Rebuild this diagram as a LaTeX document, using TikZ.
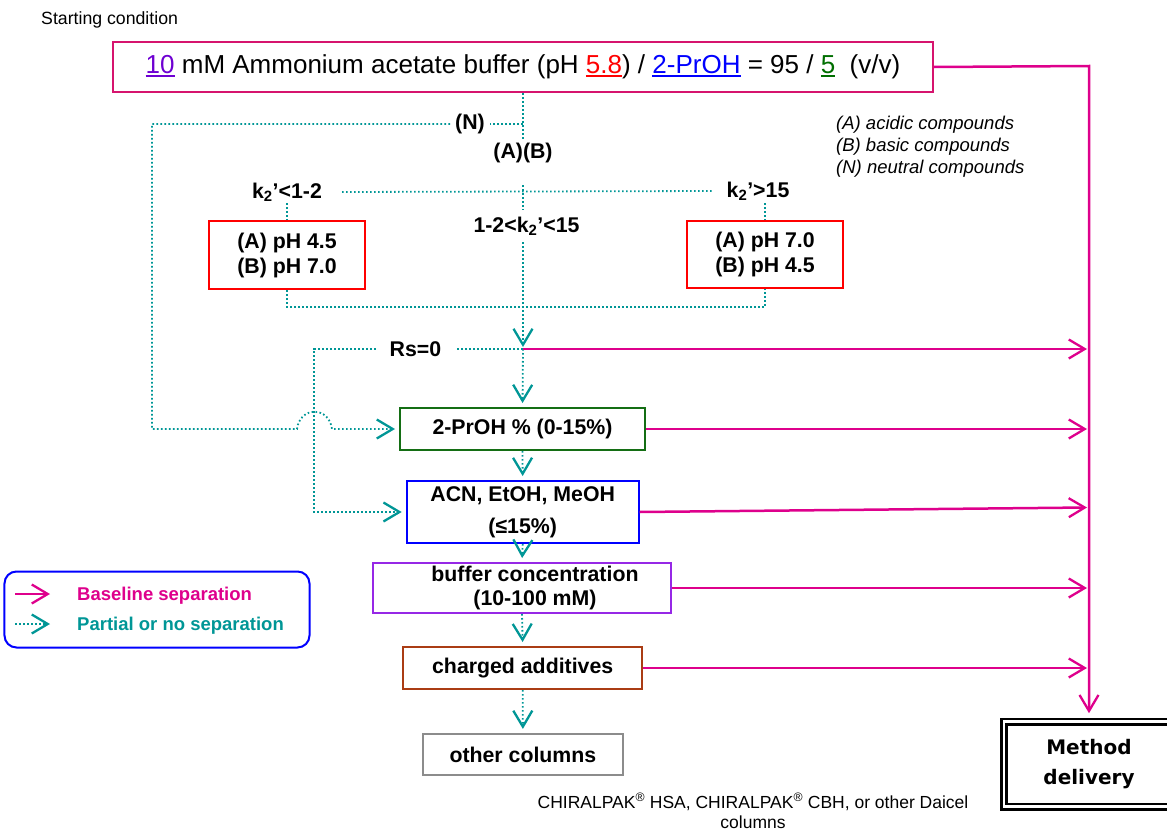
\documentclass[tikz,border=0pt]{standalone}
\usepackage{fontspec}
\setmainfont{Liberation Sans}
\newfontfamily\dejavu{DejaVu Sans}
\usetikzlibrary{arrows.meta}
\definecolor{pinkc}{RGB}{222,0,140}
\definecolor{tealc}{RGB}{0,150,150}
\definecolor{mainb}{RGB}{214,20,110}
\definecolor{redb}{RGB}{255,0,0}
\definecolor{greenb}{RGB}{20,110,20}
\definecolor{blueb}{RGB}{0,0,255}
\definecolor{purpb}{RGB}{150,40,230}
\definecolor{brownb}{RGB}{170,60,20}
\definecolor{grayb}{RGB}{140,140,140}
\definecolor{cten}{RGB}{110,0,210}
\definecolor{cfive}{RGB}{0,110,0}
\newcommand\fsz[2]{\fontsize{#1bp}{#2bp}\selectfont}
\newcommand\myul[2]{\textcolor{#1}{\setbox0\hbox{#2}\rlap{\rule[-3.5bp]{\wd0}{2bp}}\box0}}
\begin{document}
\begin{tikzpicture}[x=1bp,y=-1bp,
  tl/.style={draw=tealc, line width=1.8bp, dash pattern=on 1.6bp off 2.4bp},
  tla/.style={tl, -{Straight Barb[length=16bp,width=19bp,line width=2.3bp]}, shorten >=4bp},
  pl/.style={draw=pinkc, line width=2.5bp},
  pla/.style={pl, -{Straight Barb[length=16bp,width=19bp,line width=2.3bp]}},
  bx/.style={draw, line width=2bp, inner sep=0, align=center, font=\bfseries\fsz{21.3}{25}},
  lbl/.style={font=\bfseries\fsz{21.3}{25}, inner sep=0},
]
\useasboundingbox (0,0) rectangle (1167,833);
\clip (0,0) rectangle (1167,833);

% nodes
\node[anchor=west, font=\fsz{17.7}{21}, inner sep=0] (start) at (41,20) {Starting condition};
\node[draw=mainb, line width=2bp, minimum width=820bp, minimum height=50bp, inner sep=0, font=\fsz{26}{30}] (main) at (523,67)
  {\myul{cten}{10} mM Ammonium acetate buffer (pH \myul{redb}{5.8}) / \myul{blueb}{2-PrOH} = 95 / \myul{cfive}{5}\ \ (v/v)};
\node[anchor=west, align=left, font=\itshape\fsz{18.5}{22}, inner sep=0] (abn) at (836,146.5)
  {(A) acidic compounds\\(B) basic compounds\\(N) neutral compounds};

\node[lbl, inner xsep=5bp] (nn) at (470,124) {(N)};
\node[lbl] (ab) at (523,153) {(A)(B)};
\node[lbl, inner xsep=20bp] (kl) at (287,192) {k\textsubscript{2}’<1-2};
\node[lbl, inner xsep=13bp] (kr) at (758,191) {k\textsubscript{2}’>15};
\node[lbl] (km) at (526.5,226) {1-2<k\textsubscript{2}’<15};

\node[bx, draw=redb, minimum width=156bp, minimum height=68bp] (phl) at (287,255) {(A) pH 4.5\\(B) pH 7.0};
\node[bx, draw=redb, minimum width=156bp, minimum height=67bp] (phr) at (765,254.5) {(A) pH 7.0\\(B) pH 4.5};

\node[lbl, inner xsep=14bp] (rs) at (415.5,349) {Rs=0};

\node[bx, draw=greenb, minimum width=245bp, minimum height=42bp] (prop) at (522.5,429) {2-PrOH \% (0-15\%)};
\node[bx, draw=blueb, minimum width=232bp, minimum height=62bp, font=\bfseries\fsz{21.3}{32}] (acn) at (522.7,512) {ACN, EtOH, MeOH\\(≤15\%)};
\node[bx, draw=purpb, minimum width=298bp, minimum height=50bp] (buf) at (522,588) {};
\node[lbl, align=center, font=\bfseries\fsz{21.3}{24}] (buft) at (535,588) {buffer concentration\\(10-100 mM)};
\node[bx, draw=brownb, minimum width=239bp, minimum height=42bp] (chg) at (522.7,668) {charged additives};
\node[bx, draw=grayb, minimum width=200bp, minimum height=41bp] (oth) at (522.9,754.4) {other columns};

\node[draw=black, line width=2.6bp, double=white, double distance=2.8bp, minimum width=170bp, minimum height=85bp,
  font=\dejavu\bfseries\fsz{20}{30.6}, align=center, inner sep=0] (md) at (1089,764) {Method\\delivery};

\node[font=\fsz{17.5}{20.5}, align=center, inner sep=0] (foot) at (753,811)
  {CHIRALPAK\textsuperscript{®} HSA, CHIRALPAK\textsuperscript{®} CBH, or other Daicel\\columns};

% legend
\node[draw=blueb, line width=2bp, rounded corners=12bp, minimum width=305bp, minimum height=76bp] (leg) at (157,609.5) {};
\node[anchor=west, font=\bfseries\fsz{18.5}{22}, text=pinkc, inner sep=0] (lg1) at (77,595.5) {Baseline separation};
\node[anchor=west, font=\bfseries\fsz{18.5}{22}, text=tealc, inner sep=0] (lg2) at (77,625.5) {Partial or no separation};
\coordinate (la1) at (15,594); \coordinate (lb1) at (50,594);
\coordinate (la2) at (15,624); \coordinate (lb2) at (50,624);
\draw[pla] (la1) -- (lb1);
\draw[tla, shorten >=0bp] (la2) -- (lb2);

% coordinates
\coordinate (v1) at (523,140);
\coordinate (nj) at (523,124);
\coordinate (nl) at (152,124);
\coordinate (nb) at (152,429);
\coordinate (h1) at (297,429);
\coordinate (h2) at (332,429);
\coordinate (t1) at (523,185);
\coordinate (t2) at (523,210);
\coordinate (t3) at (523,242);
\coordinate (j) at (523,349);
\coordinate (pl1) at (287,203);
\coordinate (pr1) at (765,203);
\coordinate (pl2) at (287,307);
\coordinate (pr2) at (765,307);
\coordinate (rsl) at (314,349);
\coordinate (rsb) at (314,512);
\coordinate (mr) at (1089,66);
\coordinate (e1) at (1087,349);
\coordinate (e2) at (1087,429);
\coordinate (e3) at (1087,507.5);
\coordinate (e4) at (1087,588);
\coordinate (e5) at (1087,668);

% teal connectors
\draw[tl] (main.south) -- (v1);
\draw[tl] (nj) -- (nn.east);
\draw[tla] (nn.west) -- (nl) -- (nb) -- (h1) .. controls (300,406) and (329,406) .. (h2) -- (prop.west);
\draw[tl] (kl.east) -- (kr.west);
\draw[tl] (t1) -- (t2);
\draw[tl] (pl1) -- (phl.north);
\draw[tl] (pr1) -- (phr.north);
\draw[tl] (phl.south) -- (pl2) -- (pr2) -- (phr.south);
\draw[tla, shorten >=2bp] (t3) -- (j);
\draw[tl] (j) -- (rs.east);
\draw[tla] (rs.west) -- (rsl) -- (rsb) -- (acn.west);
\draw[tla] (j) -- (prop.north);
\draw[tla] (prop.south) -- (acn.north);
\draw[tla] (acn.south) -- (buf.north);
\draw[tla] (buf.south) -- (chg.north);
\draw[tla] (chg.south) -- (oth.north);

% pink connectors
\draw[pla, shorten >=7bp] (main.east) -- (mr) -- (md.north);
\draw[pla] (j) -- (e1);
\draw[pla] (prop.east) -- (e2);
\draw[pla] (acn.east) -- (e3);
\draw[pla] (buf.east) -- (e4);
\draw[pla] (chg.east) -- (e5);
\end{tikzpicture}
\end{document}
